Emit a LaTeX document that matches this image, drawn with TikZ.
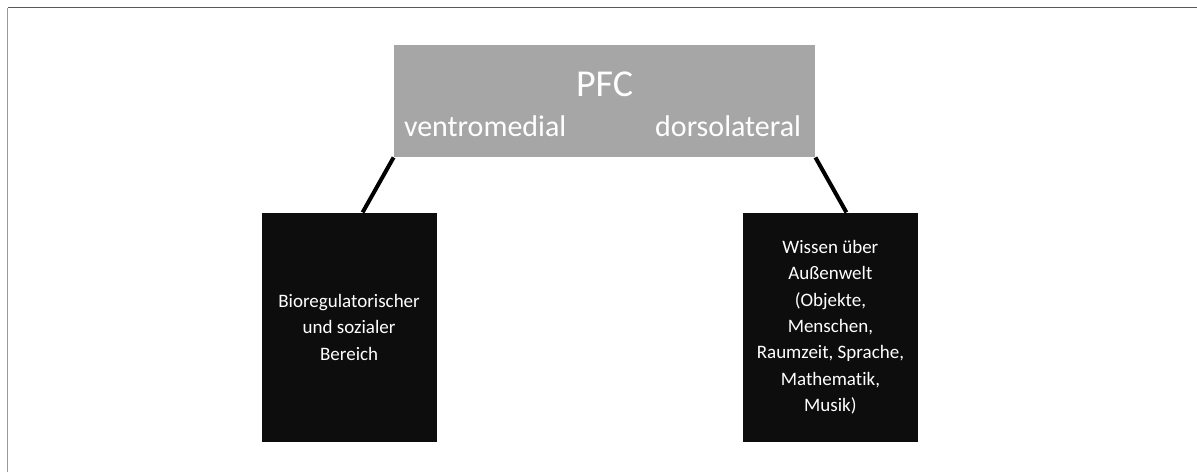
\documentclass[tikz,border=0pt]{standalone}
\usepackage{fontspec}
\setmainfont{Carlito}[Ligatures=CommonOff]
\usetikzlibrary{positioning}
\definecolor{pfcgrau}{HTML}{A6A6A6}
\definecolor{kastenschwarz}{HTML}{0D0D0D}
\tikzset{
grau/.style={rectangle,fill=pfcgrau,minimum width=210.5pt,minimum height=56pt,inner sep=0pt},
kasten/.style={rectangle,fill=kastenschwarz,text=white,align=center,minimum width=87.5pt,
  minimum height=114.5pt,inner sep=0pt,font=\fontsize{9.5}{13.2}\selectfont},
beschrift/.style={text=white,inner sep=0pt},
linie/.style={line width=2pt}}

\begin{document}
\begin{tikzpicture}

\useasboundingbox (0,0) rectangle (598.5pt,-236pt);

      % Rahmen
      \draw[black!40,line width=0.75pt] (3.75pt,-236pt) -- (3.75pt,-3.75pt);
      \draw[black!65,line width=0.75pt] (3.75pt,-3.75pt) -- (598.5pt,-3.75pt);

      \node[grau] (pfc) at (302.25pt,-50.5pt) {};
      \node[beschrift,anchor=base,font=\fontsize{19}{23}\selectfont] (titel) at ([yshift=2.5pt]pfc.center) {PFC};
      \node[beschrift,anchor=base west,font=\fontsize{15}{18}\selectfont] (ventro) at ([xshift=5pt,yshift=10.5pt]pfc.south west) {ventromedial};
      \node[beschrift,anchor=base east,font=\fontsize{15}{18}\selectfont] (dorso) at ([xshift=-7pt,yshift=10.5pt]pfc.south east) {dorsolateral};

      \node (bio) [kasten,below=27.5pt of pfc.south west,xshift=-22.25pt] {Bioregulatorischer\\und sozialer\\Bereich};
      \node (wissen) [kasten,below=27.5pt of pfc.south east,xshift=7.5pt] {Wissen über\\Außenwelt\\(Objekte,\\Menschen,\\Raumzeit, Sprache,\\Mathematik,\\Musik)};

      \draw[linie] (pfc.south west) -- ([xshift=6.75pt]bio.north);
      \draw[linie] (pfc.south east) -- ([xshift=8pt]wissen.north);
\end{tikzpicture}
\end{document}
